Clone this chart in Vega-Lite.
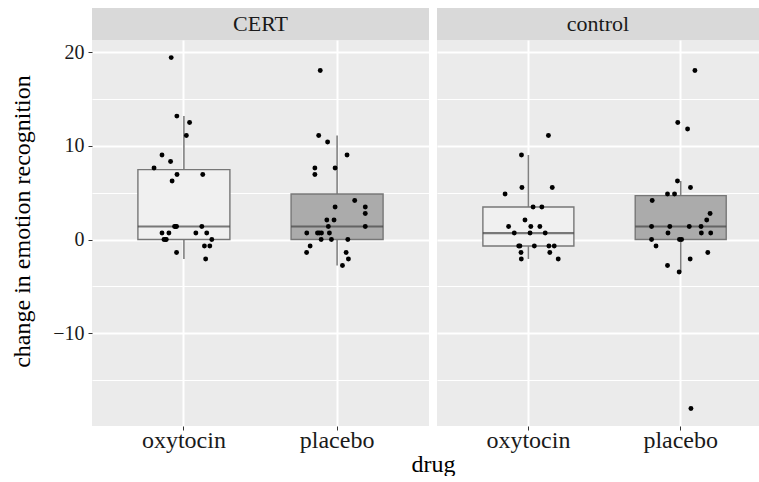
{
  "$schema": "https://vega.github.io/schema/vega-lite/v6.json",
  "padding": {"left": 10, "top": 8, "right": 0, "bottom": 0},
  "background": "#FFFFFF",
  "bounds": "flush",
  "columns": 2,
  "spacing": {"row": 0, "column": 8},
  "config": {
    "font": "Liberation Serif",
    "view": {"stroke": null},
    "axis": {
      "labelFont": "Liberation Serif",
      "titleFont": "Liberation Serif",
      "labelColor": "#1A1A1A",
      "titleColor": "#000000",
      "titleFontWeight": "normal",
      "tickColor": "#333333",
      "tickSize": 4,
      "domain": false,
      "gridColor": "#FFFFFF"
    }
  },
  "datasets": {
    "pts": [
      {"group": "CERT", "drug": "oxytocin", "value": 19.44, "jitter": -0.083},
      {"group": "CERT", "drug": "oxytocin", "value": 13.19, "jitter": -0.046},
      {"group": "CERT", "drug": "oxytocin", "value": 12.5, "jitter": 0.037},
      {"group": "CERT", "drug": "oxytocin", "value": 11.11, "jitter": 0.016},
      {"group": "CERT", "drug": "oxytocin", "value": 9.03, "jitter": -0.143},
      {"group": "CERT", "drug": "oxytocin", "value": 8.33, "jitter": -0.087},
      {"group": "CERT", "drug": "oxytocin", "value": 7.64, "jitter": -0.195},
      {"group": "CERT", "drug": "oxytocin", "value": 6.94, "jitter": -0.045},
      {"group": "CERT", "drug": "oxytocin", "value": 6.94, "jitter": 0.123},
      {"group": "CERT", "drug": "oxytocin", "value": 6.25, "jitter": -0.077},
      {"group": "CERT", "drug": "oxytocin", "value": 1.39, "jitter": -0.061},
      {"group": "CERT", "drug": "oxytocin", "value": 1.39, "jitter": -0.048},
      {"group": "CERT", "drug": "oxytocin", "value": 1.39, "jitter": 0.117},
      {"group": "CERT", "drug": "oxytocin", "value": 1.39, "jitter": -0.054},
      {"group": "CERT", "drug": "oxytocin", "value": 0.69, "jitter": -0.143},
      {"group": "CERT", "drug": "oxytocin", "value": 0.69, "jitter": -0.098},
      {"group": "CERT", "drug": "oxytocin", "value": 0.69, "jitter": 0.078},
      {"group": "CERT", "drug": "oxytocin", "value": 0.69, "jitter": 0.149},
      {"group": "CERT", "drug": "oxytocin", "value": 0, "jitter": -0.13},
      {"group": "CERT", "drug": "oxytocin", "value": 0, "jitter": -0.115},
      {"group": "CERT", "drug": "oxytocin", "value": 0, "jitter": -0.121},
      {"group": "CERT", "drug": "oxytocin", "value": 0, "jitter": 0.182},
      {"group": "CERT", "drug": "oxytocin", "value": -0.69, "jitter": 0.134},
      {"group": "CERT", "drug": "oxytocin", "value": -0.69, "jitter": 0.169},
      {"group": "CERT", "drug": "oxytocin", "value": -1.39, "jitter": -0.048},
      {"group": "CERT", "drug": "oxytocin", "value": -2.08, "jitter": 0.142},

      {"group": "CERT", "drug": "placebo", "value": 18.06, "jitter": -0.11},
      {"group": "CERT", "drug": "placebo", "value": 11.11, "jitter": -0.12},
      {"group": "CERT", "drug": "placebo", "value": 10.42, "jitter": -0.062},
      {"group": "CERT", "drug": "placebo", "value": 9.03, "jitter": 0.065},
      {"group": "CERT", "drug": "placebo", "value": 7.64, "jitter": -0.145},
      {"group": "CERT", "drug": "placebo", "value": 7.64, "jitter": -0.013},
      {"group": "CERT", "drug": "placebo", "value": 6.94, "jitter": -0.145},
      {"group": "CERT", "drug": "placebo", "value": 4.17, "jitter": 0.115},
      {"group": "CERT", "drug": "placebo", "value": 3.47, "jitter": 0.184},
      {"group": "CERT", "drug": "placebo", "value": 3.47, "jitter": -0.013},
      {"group": "CERT", "drug": "placebo", "value": 2.78, "jitter": 0.184},
      {"group": "CERT", "drug": "placebo", "value": 2.08, "jitter": -0.067},
      {"group": "CERT", "drug": "placebo", "value": 2.08, "jitter": -0.02},
      {"group": "CERT", "drug": "placebo", "value": 1.39, "jitter": -0.057},
      {"group": "CERT", "drug": "placebo", "value": 1.39, "jitter": 0.184},
      {"group": "CERT", "drug": "placebo", "value": 0.69, "jitter": -0.198},
      {"group": "CERT", "drug": "placebo", "value": 0.69, "jitter": -0.128},
      {"group": "CERT", "drug": "placebo", "value": 0.69, "jitter": -0.102},
      {"group": "CERT", "drug": "placebo", "value": 0.69, "jitter": -0.05},
      {"group": "CERT", "drug": "placebo", "value": 0.69, "jitter": -0.117},
      {"group": "CERT", "drug": "placebo", "value": 0, "jitter": -0.104},
      {"group": "CERT", "drug": "placebo", "value": 0, "jitter": -0.037},
      {"group": "CERT", "drug": "placebo", "value": 0, "jitter": 0.07},
      {"group": "CERT", "drug": "placebo", "value": -0.69, "jitter": -0.176},
      {"group": "CERT", "drug": "placebo", "value": -1.39, "jitter": -0.199},
      {"group": "CERT", "drug": "placebo", "value": -1.39, "jitter": 0.059},
      {"group": "CERT", "drug": "placebo", "value": -2.08, "jitter": 0.074},
      {"group": "CERT", "drug": "placebo", "value": -2.78, "jitter": 0.035},

      {"group": "control", "drug": "oxytocin", "value": 11.11, "jitter": 0.128},
      {"group": "control", "drug": "oxytocin", "value": 9.03, "jitter": -0.048},
      {"group": "control", "drug": "oxytocin", "value": 5.56, "jitter": -0.045},
      {"group": "control", "drug": "oxytocin", "value": 5.56, "jitter": 0.153},
      {"group": "control", "drug": "oxytocin", "value": 4.86, "jitter": -0.155},
      {"group": "control", "drug": "oxytocin", "value": 3.47, "jitter": 0.028},
      {"group": "control", "drug": "oxytocin", "value": 3.47, "jitter": 0.085},
      {"group": "control", "drug": "oxytocin", "value": 2.08, "jitter": -0.025},
      {"group": "control", "drug": "oxytocin", "value": 1.39, "jitter": -0.132},
      {"group": "control", "drug": "oxytocin", "value": 1.39, "jitter": 0.013},
      {"group": "control", "drug": "oxytocin", "value": 1.39, "jitter": 0.072},
      {"group": "control", "drug": "oxytocin", "value": 0.69, "jitter": -0.095},
      {"group": "control", "drug": "oxytocin", "value": 0.69, "jitter": 0.008},
      {"group": "control", "drug": "oxytocin", "value": 0.69, "jitter": 0.107},
      {"group": "control", "drug": "oxytocin", "value": -0.69, "jitter": -0.066},
      {"group": "control", "drug": "oxytocin", "value": -0.69, "jitter": -0.058},
      {"group": "control", "drug": "oxytocin", "value": -0.69, "jitter": 0.036},
      {"group": "control", "drug": "oxytocin", "value": -0.69, "jitter": 0.131},
      {"group": "control", "drug": "oxytocin", "value": -0.69, "jitter": 0.166},
      {"group": "control", "drug": "oxytocin", "value": -1.39, "jitter": -0.051},
      {"group": "control", "drug": "oxytocin", "value": -1.39, "jitter": 0.137},
      {"group": "control", "drug": "oxytocin", "value": -2.08, "jitter": -0.049},
      {"group": "control", "drug": "oxytocin", "value": -2.08, "jitter": 0.192},

      {"group": "control", "drug": "placebo", "value": 18.06, "jitter": 0.09},
      {"group": "control", "drug": "placebo", "value": 12.5, "jitter": -0.022},
      {"group": "control", "drug": "placebo", "value": 11.81, "jitter": 0.042},
      {"group": "control", "drug": "placebo", "value": 6.25, "jitter": -0.024},
      {"group": "control", "drug": "placebo", "value": 5.56, "jitter": 0.061},
      {"group": "control", "drug": "placebo", "value": 4.86, "jitter": -0.089},
      {"group": "control", "drug": "placebo", "value": 4.86, "jitter": -0.043},
      {"group": "control", "drug": "placebo", "value": 4.17, "jitter": -0.189},
      {"group": "control", "drug": "placebo", "value": 2.78, "jitter": 0.189},
      {"group": "control", "drug": "placebo", "value": 2.08, "jitter": 0.167},
      {"group": "control", "drug": "placebo", "value": 1.39, "jitter": -0.193},
      {"group": "control", "drug": "placebo", "value": 1.39, "jitter": -0.074},
      {"group": "control", "drug": "placebo", "value": 1.39, "jitter": 0.053},
      {"group": "control", "drug": "placebo", "value": 1.39, "jitter": 0.13},
      {"group": "control", "drug": "placebo", "value": 0.69, "jitter": -0.086},
      {"group": "control", "drug": "placebo", "value": 0.69, "jitter": 0.132},
      {"group": "control", "drug": "placebo", "value": 0.69, "jitter": 0.193},
      {"group": "control", "drug": "placebo", "value": 0, "jitter": -0.193},
      {"group": "control", "drug": "placebo", "value": 0, "jitter": -0.011},
      {"group": "control", "drug": "placebo", "value": 0, "jitter": 0.003},
      {"group": "control", "drug": "placebo", "value": -0.69, "jitter": -0.164},
      {"group": "control", "drug": "placebo", "value": -1.39, "jitter": 0.174},
      {"group": "control", "drug": "placebo", "value": -2.08, "jitter": 0.059},
      {"group": "control", "drug": "placebo", "value": -2.78, "jitter": -0.089},
      {"group": "control", "drug": "placebo", "value": -3.47, "jitter": -0.013},
      {"group": "control", "drug": "placebo", "value": -18.06, "jitter": 0.064}
    ]
  },
  "concat": [
    {
      "width": 337,
      "height": 32,
      "data": {"values": [{"panel": "CERT"}]},
      "view": {"fill": "#D9D9D9", "stroke": null},
      "mark": {"type": "text", "font": "Liberation Serif", "fontSize": 22, "color": "#1A1A1A"},
      "encoding": {"text": {"field": "panel", "type": "nominal"}}
    },
    {
      "width": 322,
      "height": 32,
      "data": {"values": [{"panel": "control"}]},
      "view": {"fill": "#D9D9D9", "stroke": null},
      "mark": {"type": "text", "font": "Liberation Serif", "fontSize": 22, "color": "#1A1A1A"},
      "encoding": {"text": {"field": "panel", "type": "nominal"}}
    },
    {
      "width": 337,
      "height": 386,
      "data": {"name": "pts"},
      "transform": [{"filter": "datum.group === 'CERT'"}],
      "view": {"fill": "#EBEBEB", "stroke": null},
      "resolve": {"axis": {"y": "independent"}},
      "layer": [
        {
          "transform": [{"filter": "datum.drug === 'oxytocin'"}],
          "mark": {"type": "boxplot", "size": 92, "outliers": false, "extent": 1.5,
            "box": {"fill": "#F0F0F0", "stroke": "#777777", "strokeWidth": 1.4},
            "median": {"color": "#444444", "thickness": 2.2},
            "rule": {"color": "#808080", "strokeWidth": 1.6}},
          "encoding": {
            "x": {"field": "drug", "type": "nominal",
              "scale": {"type": "band", "domain": ["oxytocin", "placebo"], "paddingInner": 0, "paddingOuter": 0.1},
              "axis": {"labelAngle": 0, "labelFontSize": 24, "labelBaseline": "alphabetic", "labelPadding": 17,
                "grid": true, "gridWidth": 2, "ticks": true,
                "title": "drug", "titleFontSize": 24, "titleX": 341, "titleY": 45, "titleBaseline": "alphabetic", "titleAlign": "center", "titleAnchor": null}},
            "y": {"field": "value", "type": "quantitative",
              "scale": {"domain": [-19.93, 21.32], "nice": false, "zero": false},
              "axis": {"values": [-10, 0, 10, 20], "grid": true, "gridWidth": 2, "labelFontSize": 20, "labelPadding": 4,
                "title": "change in emotion recognition", "titleFontSize": 24, "titleX": -70, "titleY": 181, "titleAngle": -90, "titleBaseline": "middle", "titleAlign": "center", "titleAnchor": null}}
          }
        },
        {
          "transform": [{"filter": "datum.drug === 'placebo'"}],
          "mark": {"type": "boxplot", "size": 92, "outliers": false, "extent": 1.5,
            "box": {"fill": "#ABABAB", "stroke": "#777777", "strokeWidth": 1.4},
            "median": {"color": "#444444", "thickness": 2.2},
            "rule": {"color": "#808080", "strokeWidth": 1.6}},
          "encoding": {
            "x": {"field": "drug", "type": "nominal"},
            "y": {"field": "value", "type": "quantitative", "axis": null}
          }
        },
        {
          "mark": {"type": "circle", "size": 24, "color": "#000000", "opacity": 1},
          "encoding": {
            "x": {"field": "drug", "type": "nominal"},
            "xOffset": {"field": "jitter", "type": "quantitative", "scale": {"domain": [-0.5, 0.5], "nice": false, "zero": false}},
            "y": {"field": "value", "type": "quantitative",
              "axis": {"values": [-15, -5, 5, 15], "grid": true, "gridWidth": 1, "labels": false, "ticks": false, "title": null, "orient": "left"}}
          }
        }
      ]
    },
    {
      "width": 322,
      "height": 386,
      "data": {"name": "pts"},
      "transform": [{"filter": "datum.group === 'control'"}],
      "view": {"fill": "#EBEBEB", "stroke": null},
      "resolve": {"axis": {"y": "independent"}},
      "layer": [
        {
          "transform": [{"filter": "datum.drug === 'oxytocin'"}],
          "mark": {"type": "boxplot", "size": 91, "outliers": false, "extent": 1.5,
            "box": {"fill": "#F0F0F0", "stroke": "#777777", "strokeWidth": 1.4},
            "median": {"color": "#444444", "thickness": 2.2},
            "rule": {"color": "#808080", "strokeWidth": 1.6}},
          "encoding": {
            "x": {"field": "drug", "type": "nominal",
              "scale": {"type": "band", "domain": ["oxytocin", "placebo"], "paddingInner": 0, "paddingOuter": 0.057, "align": 0.877},
              "axis": {"labelAngle": 0, "labelFontSize": 24, "labelBaseline": "alphabetic", "labelPadding": 17,
                "grid": true, "gridWidth": 2, "ticks": true, "title": null}},
            "y": {"field": "value", "type": "quantitative",
              "scale": {"domain": [-19.93, 21.32], "nice": false, "zero": false},
              "axis": {"values": [-10, 0, 10, 20], "grid": true, "gridWidth": 2, "labels": false, "ticks": false, "title": null}}
          }
        },
        {
          "transform": [{"filter": "datum.drug === 'placebo'"}],
          "mark": {"type": "boxplot", "size": 91, "outliers": false, "extent": 1.5,
            "box": {"fill": "#ABABAB", "stroke": "#777777", "strokeWidth": 1.4},
            "median": {"color": "#444444", "thickness": 2.2},
            "rule": {"color": "#808080", "strokeWidth": 1.6}},
          "encoding": {
            "x": {"field": "drug", "type": "nominal"},
            "y": {"field": "value", "type": "quantitative", "axis": null}
          }
        },
        {
          "mark": {"type": "circle", "size": 24, "color": "#000000", "opacity": 1},
          "encoding": {
            "x": {"field": "drug", "type": "nominal"},
            "xOffset": {"field": "jitter", "type": "quantitative", "scale": {"domain": [-0.5, 0.5], "nice": false, "zero": false}},
            "y": {"field": "value", "type": "quantitative",
              "axis": {"values": [-15, -5, 5, 15], "grid": true, "gridWidth": 1, "labels": false, "ticks": false, "title": null, "orient": "left"}}
          }
        }
      ]
    }
  ]
}
